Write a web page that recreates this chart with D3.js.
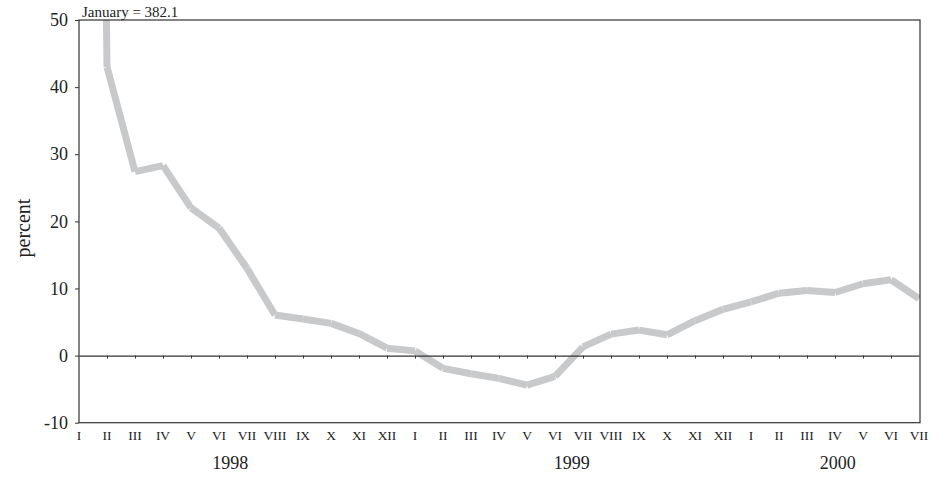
<!DOCTYPE html>
<html>
<head>
<meta charset="utf-8">
<script src="https://cdn.jsdelivr.net/npm/d3@7"></script>
<style>
  body { margin: 0; background: #fff; }
  text { font-family: "Liberation Serif", "Times New Roman", serif; fill: #222; }
</style>
</head>
<body>
<svg id="chart"></svg>
<script>
// monthly change, percent (Jan 1998 .. Jul 2000)
const monthLabels = ["I","II","III","IV","V","VI","VII","VIII","IX","X","XI","XII",
                     "I","II","III","IV","V","VI","VII","VIII","IX","X","XI","XII",
                     "I","II","III","IV","V","VI","VII"];
const values = [382.1, 43.0, 27.4, 28.3, 22.0, 19.0, 13.0, 6.05, 5.45, 4.8, 3.3, 1.1,
                0.7, -1.9, -2.7, -3.4, -4.4, -3.1, 1.3, 3.2, 3.8, 3.1, 5.2, 6.9,
                8.0, 9.3, 9.7, 9.4, 10.7, 11.3, 8.5];
const years = ["1998", "1999", "2000"];
const yearPos = [5.4, 17.6, 27.1];   // centre of each year label, in month index
const yTicks = [-10, 0, 10, 20, 30, 40, 50];

function drawChart(svgSelector, width, height) {
    const svg = d3.select(svgSelector)
        .attr("width", width)
        .attr("height", height);

    const left = 79, right = 920, top = 20, bottom = 422.7;

    const x = d3.scaleLinear().domain([0, values.length - 1]).range([left, right - 1]);
    const y = d3.scaleLinear().domain([-10, 50]).range([bottom, top]);

    // clip the line to the plot box (January is off the scale)
    svg.append("clipPath").attr("id", "plotClip")
        .append("rect")
        .attr("x", left).attr("y", top)
        .attr("width", right - left).attr("height", bottom - top);

    // the line, one segment per month pair
    const line = d3.line().x(d => x(d[0])).y(d => y(d[1]));
    const pts = values.map((v, i) => [i, v]);
    svg.append("g")
        .attr("clip-path", "url(#plotClip)")
        .selectAll("path")
        .data(d3.pairs(pts))
        .enter().append("path")
        .attr("d", d => line(d))
        .attr("fill", "none")
        .attr("stroke", "#c8c9cb")
        .attr("stroke-width", 7)
        .attr("stroke-linecap", "butt");

    // frame
    svg.append("rect")
        .attr("x", left).attr("y", top)
        .attr("width", right - left).attr("height", bottom - top)
        .attr("fill", "none")
        .attr("stroke", "#333")
        .attr("stroke-width", 1.2);

    // zero line with month ticks
    const xAxis = svg.append("g")
        .attr("transform", `translate(0,${y(0)})`)
        .call(d3.axisBottom(x)
            .tickValues(d3.range(1, values.length - 1))
            .tickSize(3)
            .tickSizeOuter(0)
            .tickFormat(""));
    xAxis.select(".domain").attr("stroke", "#333").attr("stroke-width", 1.2);
    xAxis.selectAll(".tick line").attr("stroke", "#333");

    // y axis (plain hyphen for the negative label)
    const yAxis = svg.append("g")
        .attr("transform", `translate(${left},0)`)
        .call(d3.axisLeft(y).tickValues(yTicks).tickSize(4).tickPadding(7)
            .tickSizeOuter(0).tickFormat(d => String(d)));
    yAxis.select(".domain").remove();
    yAxis.selectAll(".tick line").attr("stroke", "#333");
    yAxis.selectAll(".tick text")
        .attr("font-family", "Liberation Serif, serif")
        .attr("font-size", "18px")
        .attr("fill", "#222");

    // month labels under the box
    svg.append("g").selectAll("text")
        .data(monthLabels)
        .enter().append("text")
        .attr("x", (d, i) => x(i))
        .attr("y", 440)
        .attr("text-anchor", "middle")
        .attr("font-size", "13.5px")
        .text(d => d);

    // year labels
    svg.append("g").selectAll("text")
        .data(years)
        .enter().append("text")
        .attr("x", (d, i) => x(yearPos[i]))
        .attr("y", 469)
        .attr("text-anchor", "middle")
        .attr("font-size", "18px")
        .text(d => d);

    // y axis title
    svg.append("text")
        .attr("transform", "translate(30,228) rotate(-90)")
        .attr("text-anchor", "middle")
        .attr("font-size", "20px")
        .text("percent");

    // note for the off-scale January value
    svg.append("text")
        .attr("x", 82)
        .attr("y", 17)
        .attr("font-size", "15px")
        .text(`January = ${values[0]}`);
}

drawChart("#chart", 952, 478);
</script>
</body>
</html>
